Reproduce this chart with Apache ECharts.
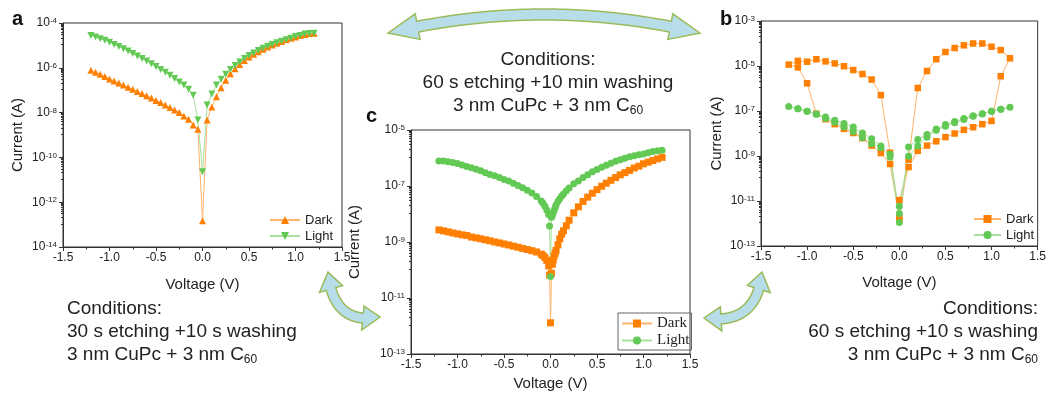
<!DOCTYPE html>
<html>
<head>
<meta charset="utf-8">
<script src="https://cdn.jsdelivr.net/npm/echarts@6/dist/echarts.min.js"></script>
<style>
  html, body { margin: 0; padding: 0; background: #fff; }
  #chart { width: 1049px; height: 402px; }
</style>
</head>
<body>
<div id="chart"></div>
<script>
// panel a : 30 s etching + 10 s washing, sweep -1.2 .. 1.2 V
var aVoltage = [-1.2, -1.15, -1.1, -1.05, -1.0, -0.95, -0.9, -0.85, -0.8, -0.75, -0.7, -0.65, -0.6, -0.55, -0.5, -0.45, -0.4, -0.35, -0.3, -0.25, -0.2, -0.15, -0.1, -0.05,
  0, 0.05, 0.1, 0.15, 0.2, 0.25, 0.3, 0.35, 0.4, 0.45, 0.5, 0.55, 0.6, 0.65, 0.7, 0.75, 0.8, 0.85, 0.9, 0.95, 1.0, 1.05, 1.1, 1.15, 1.2];
var aDark = [7.8e-7, 6.3e-7, 5.1e-7, 4.1e-7, 3.2e-7, 2.6e-7, 2.1e-7, 1.7e-7, 1.35e-7, 1.1e-7, 8.7e-8, 7.1e-8, 5.6e-8, 4.5e-8, 3.5e-8, 2.8e-8, 2.2e-8, 1.7e-8, 1.3e-8, 1.0e-8, 7.1e-9, 5.0e-9, 2.8e-9, 1.8e-9,
  1.5e-13, 4.7e-9, 1.8e-8, 5.1e-8, 1.3e-7, 2.8e-7, 5.4e-7, 9.1e-7, 1.4e-6, 2.1e-6, 3.0e-6, 4.0e-6, 5.2e-6, 6.8e-6, 8.5e-6, 1.05e-5, 1.26e-5, 1.5e-5, 1.8e-5, 2.1e-5, 2.4e-5, 2.8e-5, 3.1e-5, 3.4e-5, 3.5e-5];
var aLight = [2.8e-5, 2.4e-5, 2.0e-5, 1.7e-5, 1.4e-5, 1.1e-5, 8.9e-6, 7.1e-6, 5.6e-6, 4.4e-6, 3.4e-6, 2.6e-6, 2.0e-6, 1.5e-6, 1.15e-6, 8.5e-7, 6.3e-7, 4.7e-7, 3.3e-7, 2.3e-7, 1.7e-7, 1.1e-7, 6.0e-8, 4.7e-9,
  2.3e-11, 2.2e-8, 6.8e-8, 1.7e-7, 3.1e-7, 5.2e-7, 8.3e-7, 1.26e-6, 1.8e-6, 2.6e-6, 3.5e-6, 4.6e-6, 5.9e-6, 7.4e-6, 9.1e-6, 1.1e-5, 1.3e-5, 1.55e-5, 1.8e-5, 2.1e-5, 2.5e-5, 2.8e-5, 3.2e-5, 3.4e-5, 3.5e-5];

// panel b : 60 s etching + 10 s washing, sweep 0 -> 1.2 -> 0 -> -1.2 -> 0 V
var bVoltage = [0, 0.1, 0.2, 0.3, 0.4, 0.5, 0.6, 0.7, 0.8, 0.9, 1.0, 1.1, 1.2,
  1.1, 1.0, 0.9, 0.8, 0.7, 0.6, 0.5, 0.4, 0.3, 0.2, 0.1, 0,
  -0.1, -0.2, -0.3, -0.4, -0.5, -0.6, -0.7, -0.8, -0.9, -1.0, -1.1, -1.2,
  -1.1, -1.0, -0.9, -0.8, -0.7, -0.6, -0.5, -0.4, -0.3, -0.2, -0.1, 0];
var bDark = [1.1e-11, 3.2e-10, 1.7e-9, 2.9e-9, 4.5e-9, 6.9e-9, 1.0e-8, 1.45e-8, 1.9e-8, 2.6e-8, 3.6e-8, 3.5e-6, 2.2e-5,
  5.1e-5, 7.2e-5, 1.0e-4, 1.0e-4, 8.3e-5, 6.3e-5, 4.2e-5, 2.0e-5, 6.0e-6, 1.05e-6, 6.9e-10, 1.8e-12,
  4.4e-10, 1.35e-9, 2.9e-9, 6.2e-9, 1.05e-8, 1.6e-8, 2.6e-8, 4.3e-8, 7.6e-8, 1.7e-6, 8.7e-6, 1.15e-5,
  1.7e-5, 1.55e-5, 2.0e-5, 1.6e-5, 1.3e-5, 9.8e-6, 6.6e-6, 4.4e-6, 2.5e-6, 5.1e-7, 1.4e-9, 1.4e-12];
var bLight = [5.8e-12, 9.8e-10, 2.8e-9, 6.9e-9, 1.4e-8, 2.1e-8, 3.0e-8, 4.2e-8, 5.8e-8, 7.4e-8, 9.8e-8, 1.2e-7, 1.45e-7,
  1.2e-7, 9.8e-8, 7.6e-8, 6.2e-8, 4.6e-8, 3.4e-8, 2.5e-8, 1.6e-8, 9.1e-9, 5.4e-9, 2.5e-9, 1.1e-12,
  9.1e-10, 2.3e-9, 3.5e-9, 6.5e-9, 1.2e-8, 1.95e-8, 3.2e-8, 4.7e-8, 7.1e-8, 9.8e-8, 1.26e-7, 1.6e-7,
  1.26e-7, 9.8e-8, 7.4e-8, 5.4e-8, 3.9e-8, 2.8e-8, 1.95e-8, 1.05e-8, 5.8e-9, 2.8e-9, 1.2e-9, 2.8e-12];

// panel c : 60 s etching + 10 min washing
var cVoltage = [-1.2, -1.15, -1.1, -1.05, -1.0, -0.95, -0.9, -0.85, -0.8, -0.75, -0.7, -0.65, -0.6, -0.55, -0.5, -0.45, -0.4, -0.35, -0.3, -0.25, -0.2, -0.15, -0.1,
  -0.08, -0.06, -0.04, -0.02, -0.01, 0, 0.01, 0.02, 0.03, 0.04, 0.05, 0.06, 0.08, 0.1, 0.12, 0.14, 0.17, 0.2,
  0.25, 0.3, 0.35, 0.4, 0.45, 0.5, 0.55, 0.6, 0.65, 0.7, 0.75, 0.8, 0.85, 0.9, 0.95, 1.0, 1.05, 1.1, 1.15, 1.2];
var cDark = [2.7e-9, 2.5e-9, 2.3e-9, 2.1e-9, 1.95e-9, 1.8e-9, 1.7e-9, 1.5e-9, 1.4e-9, 1.3e-9, 1.2e-9, 1.1e-9, 1.0e-9, 9.3e-10, 8.5e-10, 7.8e-10, 7.1e-10, 6.5e-10, 5.9e-10, 5.4e-10, 4.9e-10, 4.4e-10, 3.7e-10,
  3.3e-10, 2.8e-10, 2.2e-10, 1.4e-10, 6.6e-11, 1.3e-12, 7.6e-11, 1.6e-10, 2.3e-10, 3.2e-10, 4.0e-10, 5.0e-10, 7.9e-10, 1.3e-9, 1.9e-9, 2.5e-9, 3.8e-9, 6.0e-9,
  1.1e-8, 1.8e-8, 2.8e-8, 4.0e-8, 5.5e-8, 7.4e-8, 9.8e-8, 1.26e-7, 1.6e-7, 2.0e-7, 2.5e-7, 3.0e-7, 3.6e-7, 4.4e-7, 5.1e-7, 6.2e-7, 7.1e-7, 8.1e-7, 9.3e-7, 1.05e-6];
var cLight = [7.8e-7, 7.8e-7, 7.4e-7, 6.9e-7, 6.3e-7, 5.6e-7, 5.0e-7, 4.5e-7, 4.0e-7, 3.5e-7, 3.0e-7, 2.6e-7, 2.3e-7, 2.0e-7, 1.7e-7, 1.5e-7, 1.26e-7, 1.05e-7, 8.7e-8, 7.1e-8, 5.6e-8, 4.2e-8, 2.9e-8,
  2.4e-8, 1.9e-8, 1.4e-8, 9.5e-9, 3.7e-9, 5.8e-11, 7.6e-9, 8.9e-9, 1.1e-8, 1.4e-8, 1.7e-8, 2.1e-8, 2.8e-8, 3.5e-8, 4.4e-8, 5.2e-8, 6.8e-8, 8.5e-8,
  1.2e-7, 1.5e-7, 2.0e-7, 2.5e-7, 3.2e-7, 3.9e-7, 4.7e-7, 5.5e-7, 6.5e-7, 7.6e-7, 8.7e-7, 9.8e-7, 1.1e-6, 1.2e-6, 1.3e-6, 1.4e-6, 1.55e-6, 1.7e-6, 1.8e-6, 1.9e-6];

var yRangeA = [1e-14, 1e-4];
var yRangeB = [1e-13, 1e-3];
var yRangeC = [1e-13, 1e-5];

var SANS = '"Liberation Sans", Arial, sans-serif';
var SERIF = '"Liberation Serif", "Times New Roman", serif';
var ORANGE = '#FF7F00', ORANGE_LINE = '#FFB36B';
var GREEN = '#63C955', GREEN_LINE = '#A8E09E';
var INK = '#222';

function pairs(xs, ys) {
  return xs.map(function (x, i) { return [x, ys[i]]; });
}

function xAxisOf(gi, gap) {
  return {
    type: 'value', gridIndex: gi, min: -1.5, max: 1.5, interval: 0.5,
    name: 'Voltage (V)', nameLocation: 'middle', nameGap: gap,
    nameTextStyle: { fontFamily: SANS, fontSize: 15, color: INK },
    axisLine: { onZero: false, lineStyle: { color: '#333', width: 1 } },
    axisTick: { length: 4, lineStyle: { color: '#333' } },
    minorTick: { show: true, splitNumber: 2, length: 2.5, lineStyle: { color: '#333' } },
    splitLine: { show: false },
    axisLabel: {
      fontFamily: SANS, fontSize: 12, color: INK, margin: 5,
      formatter: function (v) { return v.toFixed(1); }
    }
  };
}

function yAxisOf(gi, range, gap) {
  return {
    type: 'log', logBase: 10, gridIndex: gi, min: range[0], max: range[1], interval: 2,
    name: 'Current (A)', nameLocation: 'middle', nameGap: gap,
    nameTextStyle: { fontFamily: SANS, fontSize: 15, color: INK },
    axisLine: { onZero: false, lineStyle: { color: '#333', width: 1 } },
    axisTick: { length: 4, lineStyle: { color: '#333' } },
    minorTick: { show: true, splitNumber: 10, length: 2, lineStyle: { color: '#333' } },
    splitLine: { show: false },
    axisLabel: {
      margin: 6,
      formatter: function (v) {
        return '{b|10}{s|' + Math.round(Math.log10(v)) + '}';
      },
      rich: {
        b: { fontFamily: SANS, fontSize: 12, color: INK },
        s: { fontFamily: SANS, fontSize: 8, color: INK, verticalAlign: 'top' }
      }
    }
  };
}

function seriesOf(name, gi, xs, ys, symbol, size, color, lineColor) {
  return {
    name: name, type: 'line', xAxisIndex: gi, yAxisIndex: gi,
    data: pairs(xs, ys),
    symbol: symbol, symbolSize: size,
    itemStyle: { color: color },
    lineStyle: { color: lineColor, width: 1 },
    emphasis: { disabled: true }
  };
}

function legendOf(names, left, top, extra) {
  var l = {
    data: names, orient: 'vertical', left: left, top: top,
    itemGap: 2, itemWidth: 30, itemHeight: 10,
    formatter: function (n) { return n.slice(0, -2); },
    textStyle: { fontFamily: SANS, fontSize: 13, color: INK, lineHeight: 14 }
  };
  for (var k in extra) l[k] = extra[k];
  return l;
}

// curved double arrow outline (decoration)
function arrowPoints(p0, c, p1, shaft, head, headLen) {
  var N = 200, pts = [], len = [0];
  function pt(t) {
    var u = 1 - t;
    return [u * u * p0[0] + 2 * u * t * c[0] + t * t * p1[0], u * u * p0[1] + 2 * u * t * c[1] + t * t * p1[1]];
  }
  function nrm(t) {
    var dx = 2 * (1 - t) * (c[0] - p0[0]) + 2 * t * (p1[0] - c[0]);
    var dy = 2 * (1 - t) * (c[1] - p0[1]) + 2 * t * (p1[1] - c[1]);
    var l = Math.sqrt(dx * dx + dy * dy);
    return [-dy / l, dx / l];
  }
  for (var i = 0; i <= N; i++) {
    pts.push(pt(i / N));
    if (i > 0) len.push(len[i - 1] + Math.hypot(pts[i][0] - pts[i - 1][0], pts[i][1] - pts[i - 1][1]));
  }
  var ia = 0, ib = N;
  while (len[ia] < headLen) ia++;
  while (len[N] - len[ib] < headLen) ib--;
  var top = [], bot = [];
  for (var j = ia; j <= ib; j++) {
    var n = nrm(j / N), p = pts[j];
    top.push([p[0] + n[0] * shaft / 2, p[1] + n[1] * shaft / 2]);
    bot.push([p[0] - n[0] * shaft / 2, p[1] - n[1] * shaft / 2]);
  }
  var na = nrm(ia / N), nb = nrm(ib / N), pa = pts[ia], pb = pts[ib];
  return [p0, [pa[0] + na[0] * head / 2, pa[1] + na[1] * head / 2]]
    .concat(top)
    .concat([[pb[0] + nb[0] * head / 2, pb[1] + nb[1] * head / 2], p1, [pb[0] - nb[0] * head / 2, pb[1] - nb[1] * head / 2]])
    .concat(bot.reverse())
    .concat([[pa[0] - na[0] * head / 2, pa[1] - na[1] * head / 2]]);
}

function arrow(p0, c, p1, shaft, head, headLen) {
  return {
    type: 'polygon', z: 0,
    shape: { points: arrowPoints(p0, c, p1, shaft, head, headLen) },
    style: { fill: '#B7DDE8', stroke: '#9BBB59', lineWidth: 1.5 }
  };
}

var condRich = {
  n: { fontFamily: SANS, fontSize: 19, color: INK, lineHeight: 23 },
  s: { fontFamily: SANS, fontSize: 12, color: INK, lineHeight: 13, verticalAlign: 'bottom' }
};

function condText(lines, x, y, align) {
  return {
    type: 'text', x: x, y: y, z: 10,
    style: {
      text: lines, align: align, verticalAlign: 'top',
      fontFamily: SANS, fontSize: 19, lineHeight: 23, fill: INK, rich: condRich
    }
  };
}

function letter(t, x, y) {
  return {
    type: 'text', x: x, y: y, z: 10,
    style: { text: t, fontFamily: SANS, fontSize: 20, fontWeight: 'bold', fill: '#111', align: 'left', verticalAlign: 'bottom' }
  };
}

var chart = echarts.init(document.getElementById('chart'));

chart.setOption({
  animation: false,
  backgroundColor: '#fff',
  grid: [
    { left: 63, top: 23, width: 279, height: 224, show: true, borderColor: '#333', borderWidth: 1, backgroundColor: 'transparent' },
    { left: 761, top: 21, width: 279, height: 225, show: true, borderColor: '#333', borderWidth: 1, backgroundColor: 'transparent' },
    { left: 411, top: 130, width: 279, height: 224, show: true, borderColor: '#333', borderWidth: 1, backgroundColor: 'transparent' }
  ],
  xAxis: [xAxisOf(0, 30), xAxisOf(1, 29), xAxisOf(2, 21)],
  yAxis: [yAxisOf(0, yRangeA, 38), yAxisOf(1, yRangeB, 37), yAxisOf(2, yRangeC, 49)],
  legend: [
    legendOf(['Dark a', 'Light a'], 264, 208, {}),
    legendOf(['Dark b', 'Light b'], 968, 207, { itemWidth: 27 }),
    legendOf(['Dark c', 'Light c'], 618, 313, {
      itemWidth: 30, padding: [3, 2, 2, 3], borderColor: '#666', borderWidth: 1,
      textStyle: { fontFamily: SERIF, fontSize: 15, color: INK, lineHeight: 15 }
    })
  ],
  series: [
    seriesOf('Dark a', 0, aVoltage, aDark, 'triangle', 7, ORANGE, ORANGE_LINE),
    seriesOf('Light a', 0, aVoltage, aLight, 'path://M0,0L10,0L5,9Z', 7, GREEN, GREEN_LINE),
    seriesOf('Dark b', 1, bVoltage, bDark, 'rect', 6.5, ORANGE, ORANGE_LINE),
    seriesOf('Light b', 1, bVoltage, bLight, 'circle', 7, GREEN, GREEN_LINE),
    seriesOf('Dark c', 2, cVoltage, cDark, 'rect', 7, ORANGE, ORANGE_LINE),
    seriesOf('Light c', 2, cVoltage, cLight, 'circle', 7, GREEN, GREEN_LINE)
  ],
  graphic: [
    arrow([388, 33], [544, -4], [700, 33], 11, 26, 30),
    arrow([328, 272], [333, 326], [380, 317], 10, 24, 17),
    arrow([762, 272], [757, 326], [704, 318], 10, 24, 17),
    condText('{n|Conditions:}\n{n|60 s etching +10 min washing}\n{n|3 nm CuPc + 3 nm C}{s|60}', 548, 48, 'center'),
    condText('{n|Conditions:}\n{n|30 s etching +10 s washing}\n{n|3 nm CuPc + 3 nm C}{s|60}', 67, 297, 'left'),
    condText('{n|Conditions:}\n{n|60 s etching +10 s washing}\n{n|3 nm CuPc + 3 nm C}{s|60}', 1038, 297, 'right'),
    letter('a', 12, 29),
    letter('b', 720, 29),
    letter('c', 366, 126)
  ]
});
</script>
</body>
</html>
